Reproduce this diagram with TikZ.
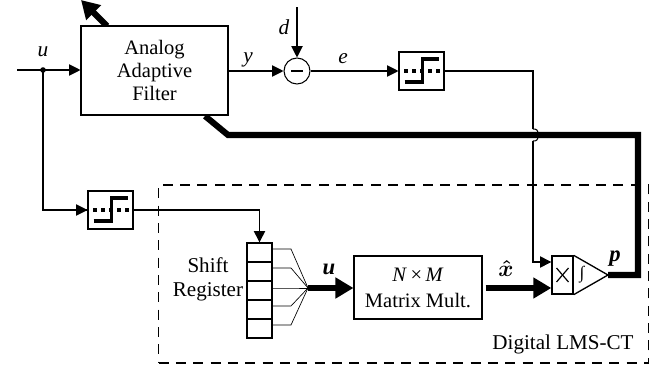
\documentclass[tikz,border=0pt]{standalone}
\usepackage{fontspec}
\setmainfont{Liberation Serif}
\usepackage{amsmath}
\usetikzlibrary{arrows.meta,calc}
\tikzset{
  thin line/.style={line width=0.8pt},
  sig/.style={thin line,-{Triangle[length=8.5pt,width=8.5pt]}},
  bus/.style={line width=4.6pt,line join=miter},
  busarrow/.style={bus,-{Triangle[length=13.5pt,width=15pt]}},
  block/.style={draw,thin line,fill=white,minimum width=0pt,minimum height=0pt,inner sep=0pt,align=center,font=\fontsize{15.4}{17.4}\selectfont},
  lbl/.style={inner sep=0pt,font=\fontsize{16}{18}\selectfont\itshape},
  blbl/.style={inner sep=0pt,font=\fontsize{17}{19}\selectfont\bfseries\itshape},
  txt/.style={inner sep=0pt,align=center,font=\fontsize{15.8}{18}\selectfont},
  cell/.style={draw,line width=1pt,minimum width=18.75pt,minimum height=14.25pt,inner sep=0pt},
  quant/.style={block,minimum width=33.75pt,minimum height=28.5pt},
}
\newcommand{\quantglyph}[1]{%
  \draw[line width=2.7pt,dash pattern=on 2.7pt off 3.3pt] ($(#1.west)+(6,0)$) -- ($(#1.east)+(-4,0)$);
  \draw[line width=2.5pt] ($(#1.center)+(-17,11)$) -- ($(#1.center)+(1,11)$) -- ($(#1.center)+(1,-12)$) -- ($(#1.center)+(17,-12)$);
}
\begin{document}
\begin{tikzpicture}[x=0.75pt,y=-0.75pt]
\useasboundingbox (0,0) rectangle (660,371);
% dashed frame
\node[draw,line width=0.9pt,dash pattern=on 7.5pt off 5.5pt,minimum width=367.5pt,minimum height=133.5pt,inner sep=0pt] (frame) at (403.5,274) {};
% upper row
\node[block,minimum width=110.25pt,minimum height=66.75pt] (filter) at (154.5,70.5) {};
\coordinate (in) at (17,70);
\coordinate (tap) at (43,70);
\coordinate (dtop) at (297,7);
\node[draw,thin line,circle,minimum size=19.5pt,inner sep=0pt] (sum) at (297,71) {};
\draw[line width=1.4pt] ($(sum.center)+(-6,0)$) -- ($(sum.center)+(6,0)$);
\node[quant] (q1) at (421.5,71) {};
\quantglyph{q1}
\node[quant] (q2) at (110.5,210) {};
\quantglyph{q2}
% shift register
\node[cell] (r1) at (259.5,252.5) {};
\node[cell] (r2) at (259.5,271.5) {};
\node[cell] (r3) at (259.5,290.5) {};
\node[cell] (r4) at (259.5,309.5) {};
\node[cell] (r5) at (259.5,328.5) {};
\node[txt] (srl) at (208,279) {Shift\\Register};
% matrix
\node[block,minimum width=96pt,minimum height=47.25pt] (mat) at (418,287.5) {\textit{N}\,×\,\textit{M}\\[2pt]Matrix Mult.};
% multiplier & integrator
\node[draw,line width=1pt,minimum width=15.75pt,minimum height=28.5pt,inner sep=0pt] (mul) at (562.5,275) {};
\draw[line width=0.9pt] ($(mul.center)+(-6,-7)$) -- ($(mul.center)+(6,7)$);
\draw[line width=0.9pt] ($(mul.center)+(-6,7)$) -- ($(mul.center)+(6,-7)$);
\coordinate (itop) at (mul.north east);
\coordinate (ibot) at (mul.south east);
\coordinate (itip) at (608,275);
\draw[line width=1pt] (itop) -- (itip) -- (ibot);
\node[inner sep=0pt,font=\fontsize{13}{15}\selectfont\itshape] (int) at (582,275) {∫};
% bus lines
\coordinate (busA) at (107,26);
\coordinate (busTip) at (81,0);
\draw[busarrow] (busA) -- (busTip);
\coordinate (c1) at (638,135);
\coordinate (c2) at (228,135);
\coordinate (c3) at (205,116);
\draw[bus] (itip) -- (638,275) -- (c1) -- (c2) -- (c3);
\node[block,minimum width=110.25pt,minimum height=66.75pt] at (filter) {Analog\\[0.2pt]Adaptive\\[0.2pt]Filter};
\coordinate (fan) at (308,288);
\draw[busarrow] (fan) -- (mat.west |- fan);
\draw[busarrow] (mat.east |- fan) ++(3,0) -- (mul.west |- fan);
% fan-in
\foreach \n/\yy in {r1/249,r2/268,r3/288,r4/306,r5/325}{
  \draw[line width=0.5pt] (\n.east |- 0,\yy) -- (291,\yy) -- (fan);
}
% signals
\draw[sig] (in) -- (filter.west |- in);
\fill (tap) circle (2.8);
\draw[thin line] (tap) |- (q2.west) ;
\draw[sig] (tap |- q2.west) -- (q2.west);
\draw[sig] (filter.east |- sum) -- (sum.west);
\draw[sig] (dtop) -- (sum.north);
\draw[sig] (sum.east) -- (q1.west);
\draw[sig] (q2.east) -| (r1.north);
\coordinate (j1) at (533,129);
\coordinate (j2) at (533,141);
\draw[thin line] (q1.east) -| (j1);
\draw[thin line] (j1) .. controls (537,129) and (538,130) .. (538,135) .. controls (538,140) and (537,141) .. (j2);
\draw[sig] (j2) |- (mul.west |- 0,262);
% labels
\node[lbl] (lu) at (43,52) {u};
\node[lbl] (ly) at (248,60) {y};
\node[lbl] (ld) at (284,27) {d};
\node[lbl] (le) at (343,59) {e};
\node[blbl] (lub) at (329,269) {u};
\node[blbl] (lxh) at (506,268) {$\boldsymbol{\hat{x}}$};
\node[blbl] (lp) at (615,259) {p};
\node[txt] (dig) at (563,344) {Digital LMS-CT};
\end{tikzpicture}
\end{document}
